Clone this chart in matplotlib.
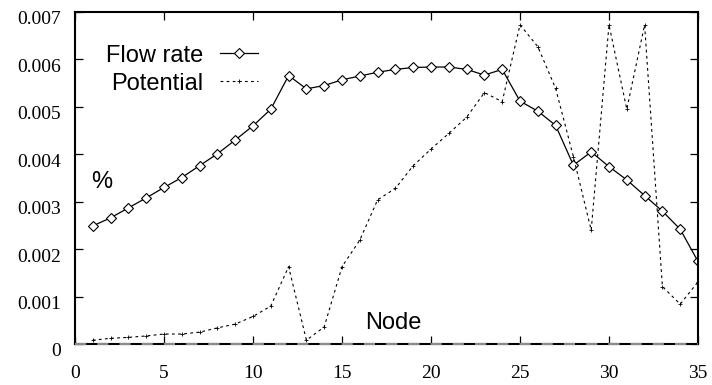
import matplotlib
matplotlib.use("Agg")
import matplotlib.pyplot as plt
import matplotlib.transforms as mtransforms
import numpy as np

# values
nodes = list(range(1, 36))
flow_rate = [
    0.00249, 0.00266, 0.00287, 0.00308, 0.00330, 0.00351, 0.00376, 0.00401,
    0.00430, 0.00460, 0.00495, 0.00566, 0.00538, 0.00545, 0.00557, 0.00565,
    0.00573, 0.00579, 0.00583, 0.00584, 0.00584, 0.00579, 0.00567, 0.00579,
    0.00512, 0.00491, 0.00461, 0.00377, 0.00405, 0.00374, 0.00346, 0.00313,
    0.00280, 0.00242, 0.00174,
]
potential = [
    0.00008, 0.00012, 0.00014, 0.00017, 0.00021, 0.00021, 0.00025, 0.00034,
    0.00042, 0.00058, 0.00080, 0.00163, 0.00008, 0.00036, 0.00163, 0.00219,
    0.00304, 0.00328, 0.00376, 0.00411, 0.00444, 0.00478, 0.00530, 0.00511,
    0.00673, 0.00627, 0.00539, 0.00395, 0.00240, 0.00673, 0.00495, 0.00673,
    0.00121, 0.00084, 0.00131,
]
x_ticks = [0, 5, 10, 15, 20, 25, 30, 35]
y_ticks = [0, 0.001, 0.002, 0.003, 0.004, 0.005, 0.006, 0.007]
y_labels = ["0", "0.001", "0.002", "0.003", "0.004", "0.005", "0.006", "0.007"]

sans = ["Liberation Sans", "DejaVu Sans"]
serif = ["Liberation Serif", "DejaVu Serif"]

fig = plt.figure(figsize=(7.12, 3.85), dpi=100)
ax = fig.add_axes([75 / 712, 41 / 385, 623 / 712, 332 / 385])

ax.plot(nodes, flow_rate, color="black", lw=0.9, marker="D", markersize=5.5,
        markerfacecolor="white", markeredgecolor="black", markeredgewidth=0.8,
        label="Flow rate")
ax.plot(nodes, potential, color="black", lw=0.8, linestyle=(0, (2.5, 3)),
        marker="+", markersize=2.5, markeredgewidth=0.6, label="Potential")

# grey dashes over the bottom border, like the zero line in the original
ax.axhline(0, color="0.55", lw=1.6, dashes=(5, 5), zorder=3, clip_on=False)

ax.set_xlim(0, 35)
ax.set_ylim(0, 0.007)
ax.set_xticks(x_ticks)
ax.set_yticks(y_ticks)
ax.set_yticklabels(y_labels)

ax.tick_params(direction="in", length=6, width=0.9, top=True, right=True,
               labelsize=14)
ax.tick_params(axis="x", pad=15)
ax.tick_params(axis="y", pad=10)
for lbl in ax.get_xticklabels() + ax.get_yticklabels():
    lbl.set_family(serif)
# y labels sit a bit below their ticks in the original
shift = mtransforms.ScaledTranslation(0, -6 / 100, fig.dpi_scale_trans)
for lbl in ax.get_yticklabels():
    lbl.set_transform(lbl.get_transform() + shift)

for side in ["left", "right", "top", "bottom"]:
    ax.spines[side].set_linewidth(1.5)

ax.text(1.5, 0.00342, "%", fontsize=17, family=sans, va="center", ha="center")
ax.text(17.9, 0.00045, "Node", fontsize=17, family=sans, va="center", ha="center")

leg = ax.legend(loc="upper left", bbox_to_anchor=(0.035, 0.93), frameon=False,
                markerfirst=False, handlelength=1.6, handletextpad=0.7,
                labelspacing=0.25, borderaxespad=0,
                prop={"family": sans, "size": 17})

fig.savefig("out.png", dpi=100)
